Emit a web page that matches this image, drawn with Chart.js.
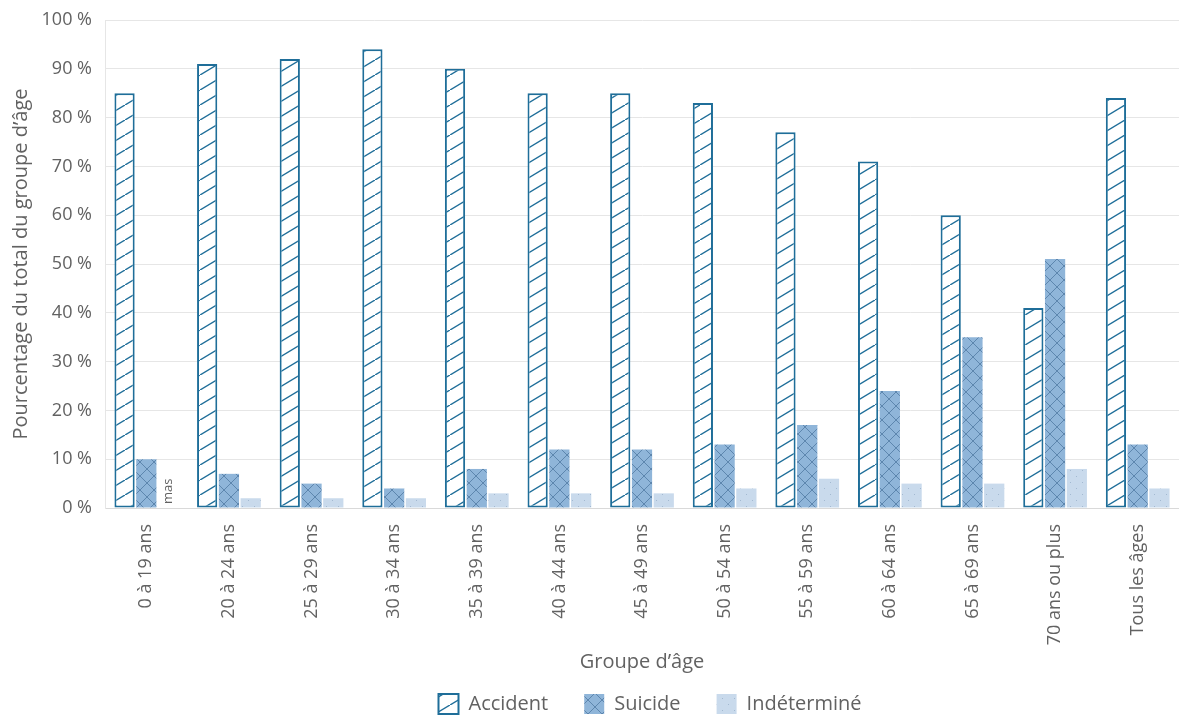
<!DOCTYPE html>
<html lang="fr">
<head>
<meta charset="utf-8">
<title>Répartition selon l'intention par groupe d'âge</title>
<script src="https://cdn.jsdelivr.net/npm/chart.js@4/dist/chart.umd.min.js"></script>
<style>
  html, body { margin: 0; padding: 0; background: #fff; }
  #wrap { width: 1179px; height: 716px; position: relative; }
</style>
</head>
<body>
<div id="wrap"><canvas id="chart"></canvas></div>
<script>
// groupes d'âge et pourcentages par intention
const groupes = ['0 à 19 ans', '20 à 24 ans', '25 à 29 ans', '30 à 34 ans', '35 à 39 ans',
  '40 à 44 ans', '45 à 49 ans', '50 à 54 ans', '55 à 59 ans', '60 à 64 ans',
  '65 à 69 ans', '70 ans ou plus', 'Tous les âges'];
const accident = [85, 91, 92, 94, 90, 85, 85, 83, 77, 71, 60, 41, 84];
const suicide = [10, 7, 5, 4, 8, 12, 12, 13, 17, 24, 35, 51, 13];
const indetermine = [null, 2, 2, 2, 3, 3, 3, 4, 6, 5, 5, 8, 4];
// valeurs masquées (donnée supprimée)
const masques = [0];
const yTicks = [0, 10, 20, 30, 40, 50, 60, 70, 80, 90, 100];

const FONT = "'Open Sans', 'Noto Sans', sans-serif";
const TXT = '#626262';

// motifs de remplissage
function tile(w, h, draw) {
  const c = document.createElement('canvas');
  c.width = w; c.height = h;
  const ctx = c.getContext('2d');
  draw(ctx, w, h);
  return ctx.createPattern(c, 'repeat');
}

const hachures = tile(25, 15, (ctx, w, h) => {
  ctx.fillStyle = '#fff';
  ctx.fillRect(0, 0, w, h);
  ctx.strokeStyle = '#1f6e99';
  ctx.lineWidth = 1.4;
  ctx.beginPath();
  ctx.moveTo(-w, 2 * h); ctx.lineTo(2 * w, -h);
  ctx.stroke();
});

const quadrillage = tile(14, 14, (ctx, w, h) => {
  ctx.fillStyle = '#8fb5d9';
  ctx.fillRect(0, 0, w, h);
  ctx.strokeStyle = '#5d86ae';
  ctx.lineWidth = 1;
  ctx.beginPath();
  ctx.moveTo(-2, -2); ctx.lineTo(w + 2, h + 2);
  ctx.moveTo(-2, h + 2); ctx.lineTo(w + 2, -2);
  ctx.stroke();
});

const points = tile(12, 12, (ctx, w, h) => {
  ctx.fillStyle = '#c9daec';
  ctx.fillRect(0, 0, w, h);
  ctx.fillStyle = '#a3b9d1';
  ctx.fillRect(2, 2, 1, 1);
  ctx.fillRect(8, 8, 1, 1);
});

// étiquette "mas" pour les valeurs masquées
const etiquetteMasque = {
  id: 'etiquetteMasque',
  afterDatasetsDraw(chart) {
    const m0 = chart.getDatasetMeta(0);
    const m1 = chart.getDatasetMeta(1);
    const y = chart.scales.y.getPixelForValue(0);
    const ctx = chart.ctx;
    ctx.save();
    ctx.font = `13px ${FONT}`;
    ctx.fillStyle = TXT;
    for (const i of masques) {
      const step = m1.data[i].x - m0.data[i].x;
      const x = m1.data[i].x + step;
      ctx.save();
      ctx.translate(x, y - 4);
      ctx.rotate(-Math.PI / 2);
      ctx.textAlign = 'left';
      ctx.textBaseline = 'middle';
      ctx.fillText('mas', 0, 0);
      ctx.restore();
    }
    ctx.restore();
  }
};

// centre la légende sous la zone du graphique plutôt que sous le canevas
const legendeCentree = {
  id: 'legendeCentree',
  afterLayout(chart) {
    const lg = chart.legend;
    const ca = chart.chartArea;
    if (!lg) return;
    const dx = (ca.left + ca.right) / 2 - (lg.left + lg.right) / 2 + 8;
    lg.left += dx;
    lg.right += dx;
  }
};

const commun = {
  categoryPercentage: 0.79,
  barPercentage: 0.93,
  borderSkipped: false,
};

new Chart(document.getElementById('chart'), {
  type: 'bar',
  data: {
    labels: groupes,
    datasets: [
      { label: 'Accident', data: accident, backgroundColor: hachures,
        borderColor: '#1f6e99', borderWidth: 2, ...commun },
      { label: 'Suicide', data: suicide, backgroundColor: quadrillage,
        borderWidth: 0, ...commun },
      { label: 'Indéterminé', data: indetermine, backgroundColor: points,
        borderWidth: 0, ...commun },
    ],
  },
  options: {
    responsive: true,
    maintainAspectRatio: false,
    animation: false,
    layout: { padding: { top: 0, right: 0, left: 4, bottom: -8 } },
    plugins: {
      legend: {
        position: 'bottom',
        labels: {
          color: TXT,
          font: { family: FONT, size: 20 },
          boxWidth: 20,
          boxHeight: 20,
          padding: 36,
        },
      },
      tooltip: { enabled: false },
    },
    scales: {
      x: {
        grid: { display: false },
        border: { color: '#d9d9d9' },
        afterFit: (s) => { s.height = 150; },
        ticks: {
          color: TXT,
          font: { family: FONT, size: 18 },
          maxRotation: 90,
          minRotation: 90,
          padding: 8,
        },
        title: {
          display: true,
          text: 'Groupe d’âge',
          color: TXT,
          font: { family: FONT, size: 20 },
          padding: { top: 0, bottom: -16 },
        },
      },
      y: {
        min: 0,
        max: 100,
        afterBuildTicks: (s) => { s.ticks = yTicks.map((v) => ({ value: v })); },
        afterFit: (s) => { s.width = 101; s.paddingTop = 20; },
        grid: { color: '#e6e6e6', drawTicks: false },
        border: { display: true, color: '#e6e6e6' },
        ticks: {
          color: TXT,
          font: { family: FONT, size: 18 },
          padding: 13,
          callback: (v) => `${v} %`,
        },
        title: {
          display: true,
          text: 'Pourcentage du total du groupe d’âge',
          color: TXT,
          font: { family: FONT, size: 20 },
          padding: { top: 5, bottom: 0 },
        },
      },
    },
  },
  plugins: [etiquetteMasque, legendeCentree],
});
</script>
</body>
</html>
